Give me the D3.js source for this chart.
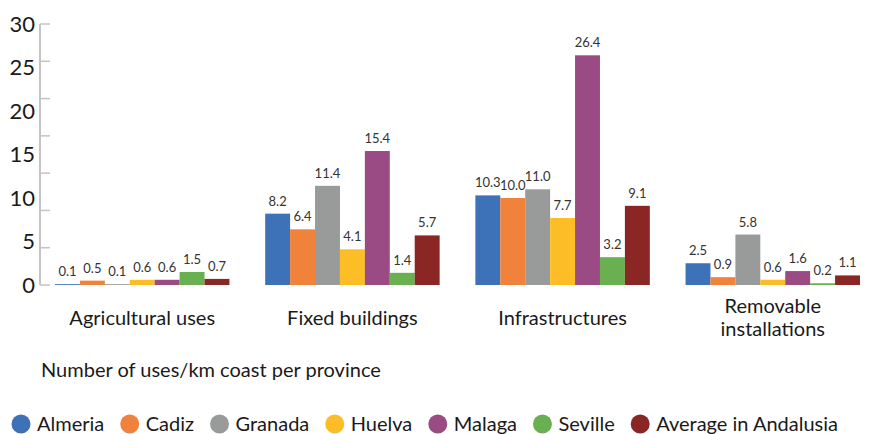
<!DOCTYPE html>
<html lang="en">
<head>
  <meta charset="UTF-8">
  <title>Uses per km of coast</title>
  <script src="https://d3js.org/d3.v7.min.js"></script>
  <style>
    body { margin: 0; background: #fff; }
    svg { display: block; font-family: Lato, "Open Sans", sans-serif; }
  </style>
</head>
<body>
<script>
// data
const categories = [["Agricultural uses"], ["Fixed buildings"], ["Infrastructures"], ["Removable", "installations"]];
const provinces = ["Almeria", "Cadiz", "Granada", "Huelva", "Malaga", "Seville", "Average in Andalusia"];
const colors = ["#3d72b8", "#f0823c", "#999b9b", "#fdbd26", "#9a4b83", "#6ab050", "#8a2624"];
const almeria = [0.1, 8.2, 10.3, 2.5];
const cadiz   = [0.5, 6.4, 10.0, 0.9];
const granada = [0.1, 11.4, 11.0, 5.8];
const huelva  = [0.6, 4.1, 7.7, 0.6];
const malaga  = [0.6, 15.4, 26.4, 1.6];
const seville = [1.5, 1.4, 3.2, 0.2];
const average = [0.7, 5.7, 9.1, 1.1];
const yTicks = [0, 5, 10, 15, 20, 25, 30];

const series = [almeria, cadiz, granada, huelva, malaga, seville, average];

const W = 869, H = 434;
const svg = d3.select("body").append("svg").attr("width", W).attr("height", H);

const x0 = d3.scaleBand().domain(d3.range(categories.length)).range([55, 860]).paddingInner(0.17).paddingOuter(0);
const x1 = d3.scaleBand().domain(d3.range(provinces.length)).range([0, x0.bandwidth()]);
const y = d3.scaleLinear().domain([0, 30]).range([285, 24]);

// axis: line, evenly spaced tick marks, labels
svg.append("line").attr("x1", 40).attr("x2", 40).attr("y1", y(30)).attr("y2", y(0))
  .attr("stroke", "#c4c4c4").attr("stroke-width", 2);
svg.selectAll(".tick").data(d3.range(8).map(i => 30 * i / 7)).enter().append("line")
  .attr("x1", 40).attr("x2", 50).attr("y1", d => y(d)).attr("y2", d => y(d))
  .attr("stroke", "#c4c4c4").attr("stroke-width", 1.5);
svg.selectAll(".ylab").data(yTicks).enter().append("text")
  .attr("x", 35).attr("y", d => y(d)).attr("dy", "0.36em")
  .attr("text-anchor", "end").attr("font-size", 22).attr("fill", "#1a1a1a")
  .text(d => d);

// bars
const groups = svg.selectAll(".grp").data(categories).enter().append("g")
  .attr("transform", (d, i) => `translate(${x0(i)},0)`);

groups.each(function(cat, ci) {
  const g = d3.select(this);
  series.forEach((s, si) => {
    const v = s[ci];
    g.append("rect")
      .attr("x", x1(si)).attr("width", x1.bandwidth())
      .attr("y", y(v)).attr("height", y(0) - y(v))
      .attr("fill", colors[si]);
    g.append("text")
      .attr("x", x1(si) + x1.bandwidth() / 2).attr("y", y(v) - 8)
      .attr("text-anchor", "middle").attr("font-size", 13).attr("fill", "#333")
      .text(v.toFixed(1));
  });
  const lines = cat.length === 1 ? [325] : [313, 336];
  cat.forEach((t, k) => {
    g.append("text")
      .attr("x", x0.bandwidth() / 2).attr("y", lines[k])
      .attr("text-anchor", "middle").attr("font-size", 20).attr("fill", "#1a1a1a")
      .text(t);
  });
});

svg.append("text").attr("x", 41).attr("y", 377)
  .attr("font-size", 20).attr("fill", "#1a1a1a")
  .text("Number of uses/km coast per province");

// legend, spread so it ends where the reference's does
const items = provinces.map((p, i) => {
  const c = svg.append("circle").attr("cy", 424).attr("r", 9.5).attr("fill", colors[i]);
  const t = svg.append("text").attr("y", 431)
    .attr("font-size", 20).attr("fill", "#1a1a1a").text(p);
  return { c, t, w: t.node().getComputedTextLength() };
});
const start = 21, end = 838;
const gap = (end - start - d3.sum(items, d => d.w + 16)) / (items.length - 1);
let lx = start;
items.forEach(d => {
  d.c.attr("cx", lx);
  d.t.attr("x", lx + 16);
  lx += 16 + d.w + gap;
});
</script>
</body>
</html>
